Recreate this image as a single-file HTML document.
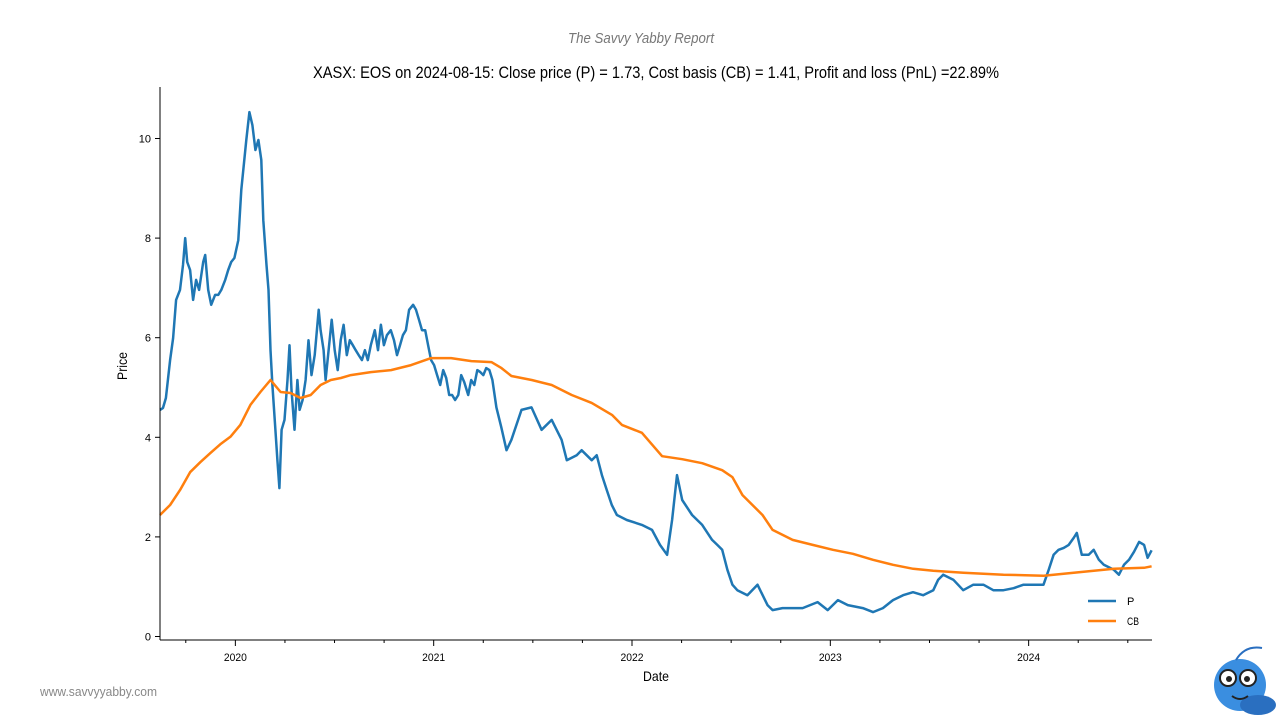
<!DOCTYPE html>
<html><head><meta charset="utf-8"><style>
body{margin:0;background:#fff;width:1280px;height:720px;overflow:hidden;font-family:"Liberation Sans",sans-serif}
svg text{font-family:"Liberation Sans",sans-serif}
</style></head><body>
<svg id="chart" width="1280" height="720" xmlns="http://www.w3.org/2000/svg">
<text x="568" y="43" font-size="15" font-style="italic" fill="#777" font-family="Liberation Serif, serif" textLength="146" lengthAdjust="spacingAndGlyphs">The Savvy Yabby Report</text>
<text x="313" y="78" font-size="17" fill="#000" textLength="686" lengthAdjust="spacingAndGlyphs">XASX: EOS on 2024-08-15: Close price (P) = 1.73, Cost basis (CB) = 1.41, Profit and loss (PnL) =22.89%</text>
<text x="0" y="0" transform="translate(127,366) rotate(-90)" text-anchor="middle" font-size="14" textLength="28" lengthAdjust="spacingAndGlyphs">Price</text>
<text x="656" y="681" text-anchor="middle" font-size="14" textLength="26" lengthAdjust="spacingAndGlyphs">Date</text>
<text x="40" y="696" font-size="13" fill="#888" textLength="117" lengthAdjust="spacingAndGlyphs">www.savvyyabby.com</text>
<g id="grid"></g>
<g id="series"></g>
<line x1="160" y1="87" x2="160" y2="640" stroke="#000" stroke-width="1"/>
<line x1="160" y1="640" x2="1152" y2="640" stroke="#000" stroke-width="1"/>
<g>
<line x1="1088" y1="601" x2="1116" y2="601" stroke="#1f77b4" stroke-width="2.5"/>
<text x="1127" y="605" font-size="11">P</text>
<line x1="1088" y1="621" x2="1116" y2="621" stroke="#ff7f0e" stroke-width="2.5"/>
<text x="1127" y="625" font-size="11" textLength="12" lengthAdjust="spacingAndGlyphs">CB</text>
</g>
<g>
<ellipse cx="1240" cy="685" rx="26" ry="26" fill="#3a8ee0"/>
<ellipse cx="1258" cy="705" rx="18" ry="10" fill="#2a6fc0"/>
<circle cx="1228" cy="678" r="8" fill="#fff" stroke="#222" stroke-width="2"/>
<circle cx="1248" cy="678" r="8" fill="#fff" stroke="#222" stroke-width="2"/>
<circle cx="1229" cy="679" r="3" fill="#222"/><circle cx="1247" cy="679" r="3" fill="#222"/>
<path d="M1232 696 Q1240 702 1248 696" stroke="#222" fill="none" stroke-width="2"/>
<path d="M1236 660 Q1245 645 1262 648" stroke="#2a6fc0" fill="none" stroke-width="2"/>
</g>
</svg>
<script>
const pDates=[2019.620,2019.635,2019.650,2019.671,2019.686,2019.701,2019.721,2019.736,2019.747,2019.757,2019.772,2019.787,2019.802,2019.817,2019.838,2019.848,2019.863,2019.878,2019.898,2019.914,2019.929,2019.949,2019.964,2019.979,2019.995,2020.015,2020.030,2020.040,2020.055,2020.071,2020.086,2020.101,2020.116,2020.131,2020.141,2020.157,2020.167,2020.177,2020.187,2020.202,2020.212,2020.222,2020.233,2020.248,2020.263,2020.273,2020.283,2020.298,2020.313,2020.324,2020.339,2020.354,2020.369,2020.384,2020.400,2020.420,2020.430,2020.445,2020.455,2020.470,2020.486,2020.501,2020.516,2020.531,2020.546,2020.562,2020.577,2020.592,2020.607,2020.622,2020.638,2020.653,2020.668,2020.683,2020.703,2020.719,2020.734,2020.749,2020.764,2020.784,2020.800,2020.815,2020.830,2020.845,2020.860,2020.876,2020.896,2020.911,2020.926,2020.941,2020.957,2020.972,2020.987,2021.002,2021.017,2021.033,2021.048,2021.063,2021.078,2021.093,2021.108,2021.124,2021.139,2021.154,2021.174,2021.189,2021.205,2021.220,2021.235,2021.250,2021.265,2021.281,2021.296,2021.316,2021.341,2021.367,2021.392,2021.443,2021.493,2021.544,2021.595,2021.645,2021.671,2021.721,2021.746,2021.797,2021.822,2021.848,2021.873,2021.898,2021.924,2021.974,2022.050,2022.101,2022.141,2022.177,2022.202,2022.227,2022.253,2022.303,2022.354,2022.404,2022.430,2022.455,2022.481,2022.506,2022.531,2022.582,2022.633,2022.683,2022.709,2022.759,2022.860,2022.936,2022.987,2023.038,2023.088,2023.164,2023.215,2023.265,2023.316,2023.367,2023.417,2023.468,2023.519,2023.544,2023.569,2023.620,2023.670,2023.721,2023.772,2023.822,2023.873,2023.924,2023.974,2024.025,2024.075,2024.101,2024.126,2024.151,2024.177,2024.202,2024.227,2024.243,2024.268,2024.303,2024.328,2024.354,2024.379,2024.430,2024.455,2024.481,2024.506,2024.531,2024.557,2024.582,2024.600,2024.620];
const pValues=[4.55,4.59,4.79,5.55,5.99,6.76,6.96,7.46,8.0,7.52,7.36,6.76,7.16,6.96,7.52,7.66,6.96,6.66,6.86,6.86,6.96,7.16,7.36,7.52,7.6,7.96,8.97,9.37,9.97,10.53,10.27,9.77,9.97,9.57,8.36,7.46,6.96,5.75,5.05,4.15,3.54,2.98,4.15,4.35,5.15,5.85,4.95,4.15,5.15,4.55,4.75,5.15,5.95,5.25,5.65,6.56,6.15,5.75,5.15,5.75,6.36,5.75,5.35,5.95,6.26,5.65,5.95,5.85,5.75,5.65,5.55,5.75,5.55,5.85,6.15,5.75,6.26,5.85,6.05,6.15,5.95,5.65,5.85,6.05,6.15,6.56,6.66,6.56,6.36,6.15,6.15,5.85,5.55,5.45,5.25,5.05,5.35,5.19,4.85,4.85,4.75,4.85,5.25,5.11,4.85,5.15,5.05,5.35,5.31,5.25,5.39,5.35,5.15,4.6,4.2,3.74,3.95,4.55,4.6,4.15,4.35,3.95,3.54,3.64,3.74,3.54,3.64,3.24,2.94,2.64,2.44,2.34,2.24,2.14,1.84,1.64,2.34,3.24,2.74,2.44,2.24,1.94,1.84,1.74,1.34,1.04,0.93,0.83,1.04,0.63,0.53,0.57,0.57,0.69,0.53,0.73,0.63,0.57,0.49,0.57,0.73,0.83,0.89,0.83,0.93,1.14,1.24,1.14,0.93,1.04,1.04,0.93,0.93,0.97,1.04,1.04,1.04,1.34,1.64,1.74,1.78,1.84,1.98,2.08,1.64,1.64,1.74,1.54,1.44,1.34,1.24,1.44,1.54,1.70,1.90,1.84,1.58,1.73];
const cbDates=[2019.620,2019.671,2019.721,2019.772,2019.823,2019.873,2019.924,2019.975,2020.025,2020.076,2020.126,2020.177,2020.228,2020.278,2020.329,2020.380,2020.430,2020.481,2020.532,2020.582,2020.683,2020.785,2020.886,2020.987,2021.088,2021.190,2021.291,2021.342,2021.392,2021.494,2021.595,2021.696,2021.797,2021.899,2021.949,2022.050,2022.152,2022.253,2022.354,2022.455,2022.506,2022.557,2022.658,2022.709,2022.810,2022.911,2023.013,2023.114,2023.215,2023.316,2023.418,2023.519,2023.671,2023.873,2024.076,2024.177,2024.278,2024.430,2024.582,2024.620];
const cbValues=[2.44,2.64,2.94,3.30,3.50,3.68,3.86,4.01,4.25,4.65,4.91,5.15,4.91,4.89,4.79,4.85,5.05,5.15,5.19,5.25,5.31,5.35,5.45,5.59,5.59,5.53,5.51,5.39,5.23,5.15,5.05,4.85,4.69,4.45,4.25,4.09,3.62,3.56,3.48,3.34,3.20,2.84,2.44,2.14,1.94,1.84,1.74,1.66,1.54,1.44,1.36,1.32,1.28,1.24,1.22,1.26,1.30,1.36,1.38,1.41];
const yTicks=[0,2,4,6,8,10];
const xTickYears=[2020,2021,2022,2023,2024];
const xMinorTicks=[2019.75,2020.25,2020.5,2020.75,2021.25,2021.5,2021.75,2022.25,2022.5,2022.75,2023.25,2023.5,2023.75,2024.25,2024.5];

const X0=160,X1=1152,T0=2019.62,T1=2024.622;
const xs=t=>X0+(t-T0)/(T1-T0)*(X1-X0);
const ys=v=>636.5-v*49.8;
const NS="http://www.w3.org/2000/svg";
const grid=document.getElementById('grid'),ser=document.getElementById('series');
function mk(tag,attrs,parent){const e=document.createElementNS(NS,tag);for(const k in attrs)e.setAttribute(k,attrs[k]);parent.appendChild(e);return e;}
yTicks.forEach(v=>{
  const l=mk('line',{x1:155,x2:160,y1:ys(v),y2:ys(v),stroke:'#000'},grid);
  
  
  const t=mk('text',{x:151,y:ys(v)+4,'text-anchor':'end','font-size':11},grid);
  
  
  t.textContent=v;
});
xTickYears.forEach(y=>{
  const l=mk('line',{x1:xs(y),x2:xs(y),y1:640,y2:646,stroke:'#000'},grid);
  
  
  const t=mk('text',{x:xs(y),y:661,'text-anchor':'middle','font-size':11,textLength:23,lengthAdjust:'spacingAndGlyphs'},grid);
  
  
  t.textContent=y;
});
xMinorTicks.forEach(y=>{
  const l=mk('line',{x1:xs(y),x2:xs(y),y1:640,y2:643,stroke:'#000'},grid);
  
  
});
function path(d,v,color,name){
  const p=mk('path',{d:d.map((t,i)=>(i?'L':'M')+xs(t).toFixed(1)+' '+ys(v[i]).toFixed(1)).join(''),fill:'none',stroke:color,'stroke-width':2.5,'stroke-linejoin':'round'},ser);
  
  
}
path(pDates,pValues,'#1f77b4','close-price-line');
path(cbDates,cbValues,'#ff7f0e','cost-basis-line');
</script>
</body></html>
